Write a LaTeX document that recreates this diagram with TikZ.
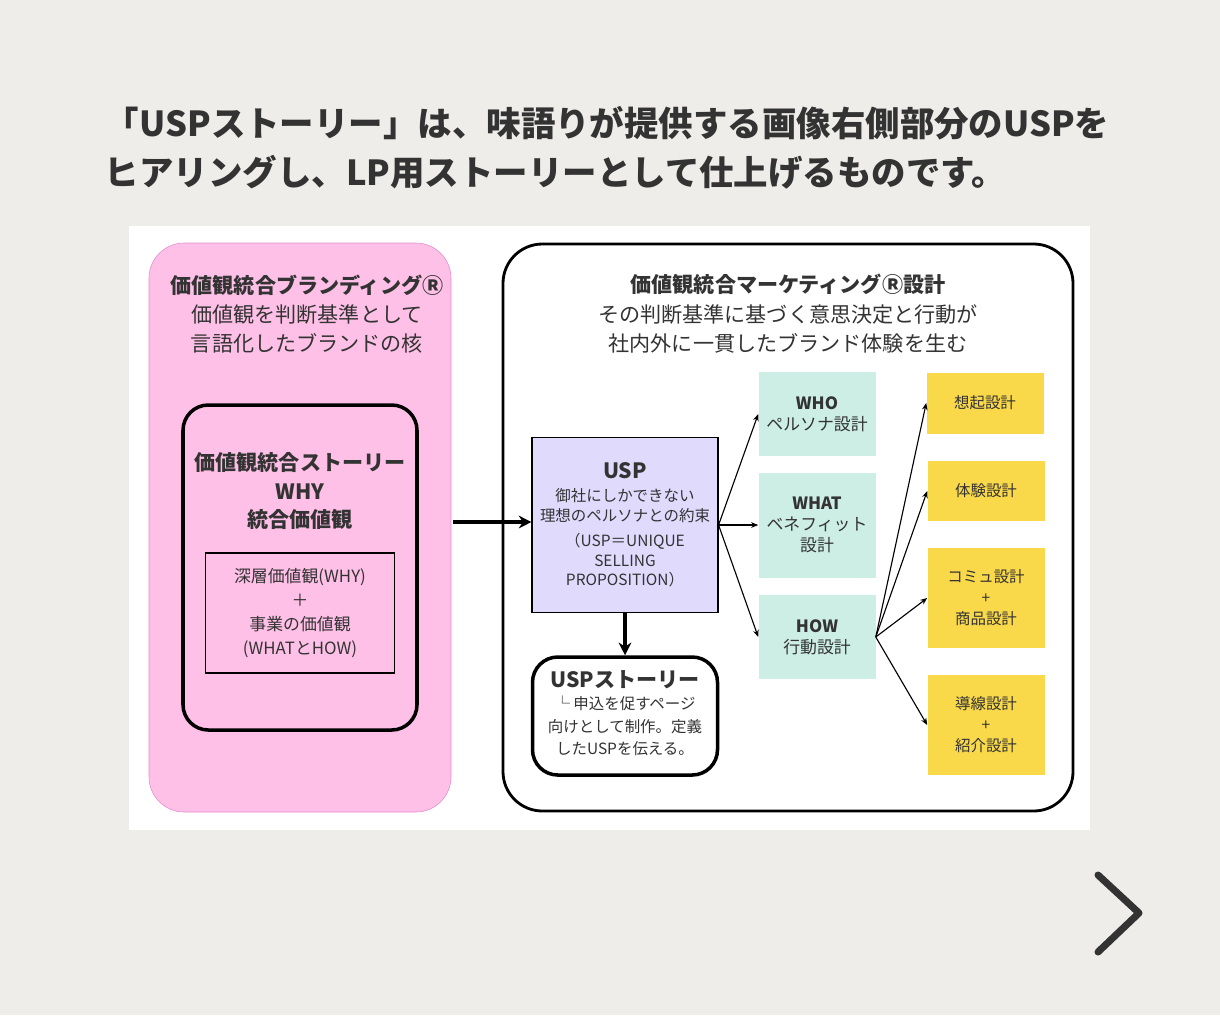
\documentclass[tikz,border=0pt]{standalone}
\usepackage{fontspec}
\setmainfont{Noto Sans CJK JP}
\usepackage{tikz}
\usetikzlibrary{arrows.meta}

\definecolor{bggray}{HTML}{EEEDE9}
\definecolor{pinkfill}{HTML}{FEC0E6}
\definecolor{pinkline}{HTML}{E38BD0}
\definecolor{uspfill}{HTML}{E0DAFD}
\definecolor{mintfill}{HTML}{CDEEE5}
\definecolor{yellowfill}{HTML}{F9D84A}
\definecolor{textgray}{HTML}{333333}

\tikzset{
  txt/.style={align=center, text=textgray, font=\fontsize{13}{16}\selectfont},
  head/.style={txt, font=\bfseries\fontsize{15}{18}\selectfont},
  mint/.style={fill=mintfill, draw=none},
  yellow/.style={fill=yellowfill, draw=none},
  thin arrow/.style={-{Stealth[length=5pt,width=4pt]}, line width=0.8pt},
  thick arrow/.style={-{Stealth[length=9pt,width=9pt]}, line width=2.2pt}
}

\begin{document}
\begin{tikzpicture}[x=0.025cm, y=-0.025cm]
    \fill[bggray] (0,0) rectangle (1220,1015);
    \useasboundingbox (0,0) rectangle (1220,1015);

    % title
    \node[anchor=west, text=textgray, font=\bfseries\fontsize{24.5}{30}\selectfont] (title1) at (100,123) {「USPストーリー」は、味語りが提供する画像右側部分のUSPを};
    \node[anchor=west, text=textgray, font=\bfseries\fontsize{24.5}{30}\selectfont] (title2) at (100,172) {ヒアリングし、LP用ストーリーとして仕上げるものです。};

    \fill[white] (129,226) rectangle (1090,830);

    % left panel
    \draw[fill=pinkfill, draw=pinkline, rounded corners=25] (149,243) rectangle (451,812);
    \node[head] (brand) at (307,285) {価値観統合ブランディングⓇ};
    \node[txt, font=\fontsize{15}{21}\selectfont] (brandsub) at (307,329) {価値観を判断基準として\\言語化したブランドの核};

    \draw[line width=2.5pt, rounded corners=18] (183,405) rectangle (417,730);
    \node[head, font=\bfseries\fontsize{15}{20}\selectfont] (story) at (300,491) {価値観統合ストーリー\\WHY\\統合価値観};
    \node[draw, line width=0.8pt, minimum width=189*0.025cm, minimum height=120*0.025cm, txt, font=\fontsize{12}{17}\selectfont] (layer) at (300,613) {深層価値観(WHY)\\＋\\事業の価値観\\(WHATとHOW)};
    \coordinate (storyeast) at (453,522);

    % right panel
    \draw[line width=2pt, rounded corners=28] (503,244) rectangle (1073,811);
    \node[txt, font=\fontsize{15}{21}\selectfont] (mkt) at (788,314) {\textbf{価値観統合マーケティングⓇ設計}\\その判断基準に基づく意思決定と行動が\\社内外に一貫したブランド体験を生む};

    \node[draw, fill=uspfill, line width=0.8pt, minimum width=186*0.025cm, minimum height=175*0.025cm] (usp) at (625,525) {};
    \node[txt, font=\fontsize{11}{14}\selectfont] (usptext) at (625,525) {{\bfseries\fontsize{15}{20}\selectfont USP}\\[2pt]御社にしかできない\\理想のペルソナとの約束\\[4pt]（USP＝UNIQUE\\SELLING\\PROPOSITION）};

    \node[draw, line width=2.5pt, rounded corners=18, minimum width=185*0.025cm, minimum height=118*0.025cm, fill=white] (uspstory) at (625,716) {};
    \node[txt, font=\fontsize{11}{16}\selectfont] (uspstorytext) at (625,713) {{\bfseries\fontsize{15}{18}\selectfont USPストーリー}\\└ 申込を促すページ\\向けとして制作。定義\\したUSPを伝える。};

    \node[mint, minimum width=117*0.025cm, minimum height=84*0.025cm, txt, font=\fontsize{12}{15}\selectfont] (who) at (817,414) {\textbf{WHO}\\ペルソナ設計};
    \node[mint, minimum width=117*0.025cm, minimum height=105*0.025cm, txt, font=\fontsize{12}{15}\selectfont] (what) at (817,525) {\textbf{WHAT}\\ベネフィット\\設計};
    \node[mint, minimum width=117*0.025cm, minimum height=84*0.025cm, txt, font=\fontsize{12}{15}\selectfont] (how) at (817,637) {\textbf{HOW}\\行動設計};

    \node[yellow, minimum width=117*0.025cm, minimum height=61*0.025cm, txt, font=\fontsize{11}{15}\selectfont] (recall) at (985,403) {想起設計};
    \node[yellow, minimum width=117*0.025cm, minimum height=60*0.025cm, txt, font=\fontsize{11}{15}\selectfont] (exp) at (986,491) {体験設計};
    \node[yellow, minimum width=117*0.025cm, minimum height=100*0.025cm, txt, font=\fontsize{11}{15}\selectfont] (comm) at (986,598) {コミュ設計\\+\\商品設計};
    \node[yellow, minimum width=117*0.025cm, minimum height=100*0.025cm, txt, font=\fontsize{11}{15}\selectfont] (flow) at (986,725) {導線設計\\+\\紹介設計};

    % connectors
    \draw[thick arrow] (storyeast) -- (storyeast -| usp.west);
    \draw[thick arrow] (usp.south) -- (uspstory.north);
    \draw[thin arrow] (usp.east) -- (who.west);
    \draw[thin arrow] (usp.east) -- (what.west);
    \draw[thin arrow] (usp.east) -- (how.west);
    \foreach \t in {recall,exp,comm,flow}
        \draw[thin arrow] (how.east) -- (\t.west);

    % next chevron
    \coordinate (chevA) at (1098,875);
    \coordinate (chevB) at (1139,913);
    \coordinate (chevC) at (1098,952);
    \draw[line width=5pt, line cap=round, line join=round, draw=textgray] (chevA) -- (chevB) -- (chevC);
\end{tikzpicture}
\end{document}
